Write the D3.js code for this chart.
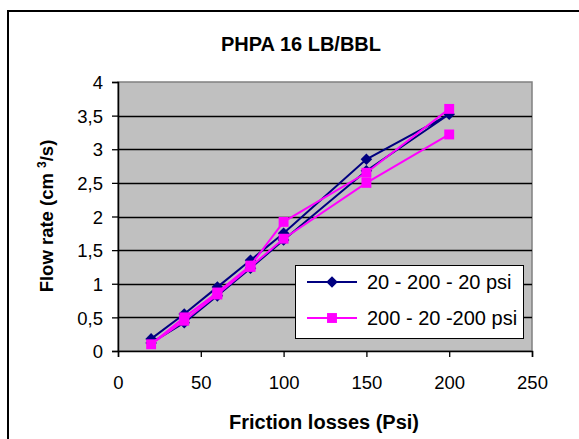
<!DOCTYPE html>
<html>
<head>
<meta charset="utf-8">
<script src="https://cdn.jsdelivr.net/npm/d3@7"></script>
<style>
  html, body { margin: 0; padding: 0; background: #fff; }
  svg { display: block; }
  text { font-family: "Liberation Sans", Arial, sans-serif; fill: #000; }
</style>
</head>
<body>
<svg id="chart" width="579" height="439"></svg>
<script>
// ---- data ----
const chartTitle = "PHPA 16 LB/BBL";
const xTitle = "Friction losses (Psi)";
const seriesNames = ["20 - 200 - 20 psi", "200 - 20 -200 psi"];
const pressureA = [20, 40, 60, 80, 100, 150, 200, 150, 100, 80, 60, 40, 20];
const flowA     = [0.18, 0.55, 0.95, 1.35, 1.75, 2.85, 3.52, 2.68, 1.65, 1.23, 0.82, 0.42, 0.12];
const pressureB = [200, 150, 100, 80, 60, 40, 20, 40, 60, 80, 100, 150, 200];
const flowB     = [3.6, 2.65, 1.92, 1.27, 0.87, 0.5, 0.1, 0.45, 0.84, 1.25, 1.67, 2.5, 3.22];
const xTicks = [0, 50, 100, 150, 200, 250];
const yTicks = [0, 0.5, 1, 1.5, 2, 2.5, 3, 3.5, 4];
const yTickLabels = ["0", "0,5", "1", "1,5", "2", "2,5", "3", "3,5", "4"];

(function () {
const svg = d3.select("#chart");
const FONT = "Liberation Sans, Arial, sans-serif";

// outer chart border
svg.append("rect").attr("x", 8).attr("y", 11).attr("width", 640).attr("height", 480)
  .attr("fill", "#fff").attr("stroke", "#000").attr("stroke-width", 2);

const pL = 118, pR = 532, pT = 82, pB = 351;
const x = d3.scaleLinear().domain([0, 250]).range([pL, pR]);
const y = d3.scaleLinear().domain([0, 4]).range([pB, pT]);

// plot area
svg.append("rect").attr("x", pL).attr("y", pT).attr("width", pR - pL).attr("height", pB - pT)
  .attr("fill", "#c0c0c0").attr("stroke", "#808080").attr("stroke-width", 1.5);

// gridlines
svg.append("g").selectAll("line").data(yTicks.filter(d => d > 0 && d < 4)).join("line")
  .attr("x1", pL).attr("x2", pR)
  .attr("y1", d => Math.round(y(d)) + 0.5).attr("y2", d => Math.round(y(d)) + 0.5)
  .attr("stroke", "#000").attr("stroke-width", 1.3);

// axes
const yAxis = d3.axisLeft(y).tickValues(yTicks).tickSize(6).tickPadding(9)
  .tickFormat((d, i) => yTickLabels[i]);
const gy = svg.append("g").attr("transform", `translate(${pL},0)`).call(yAxis);
gy.select(".domain").attr("stroke", "#000").attr("stroke-width", 1.5);
gy.selectAll(".tick line").attr("stroke", "#000").attr("stroke-width", 1.3);
gy.selectAll(".tick text").attr("font-size", 18.5).attr("font-family", FONT).attr("dy", "0.36em");

const xAxis = d3.axisBottom(x).tickValues(xTicks).tickSize(6).tickPadding(19).tickFormat(d3.format("d"));
const gx = svg.append("g").attr("transform", `translate(0,${pB})`).call(xAxis);
gx.select(".domain").attr("stroke", "#000").attr("stroke-width", 1.5);
gx.selectAll(".tick line").attr("stroke", "#000").attr("stroke-width", 1.3);
gx.selectAll(".tick text").attr("font-size", 18.5).attr("font-family", FONT);

// series
const dataA = pressureA.map((p, i) => [p, flowA[i]]);
const dataB = pressureB.map((p, i) => [p, flowB[i]]);
const line = d3.line().x(d => x(d[0])).y(d => y(d[1]));

const navy = "#000080", pink = "#ff00ff";
const diamond = d3.symbol().type(d3.symbolDiamond2).size(85);
const square = d3.symbol().type(d3.symbolSquare2).size(125);

svg.append("path").datum(dataA).attr("d", line).attr("fill", "none").attr("stroke", navy).attr("stroke-width", 2);
svg.append("g").selectAll("path").data(dataA).join("path")
  .attr("d", diamond).attr("transform", d => `translate(${x(d[0])},${y(d[1])})`).attr("fill", navy);

svg.append("path").datum(dataB).attr("d", line).attr("fill", "none").attr("stroke", pink).attr("stroke-width", 2);
svg.append("g").selectAll("path").data(dataB).join("path")
  .attr("d", square).attr("transform", d => `translate(${x(d[0])},${y(d[1])})`).attr("fill", pink);

// legend
const lg = svg.append("g");
lg.append("rect").attr("x", 295.5).attr("y", 265.5).attr("width", 228).attr("height", 73)
  .attr("fill", "#fff").attr("stroke", "#000").attr("stroke-width", 1);
const legendItems = [
  { name: seriesNames[0], color: navy, sym: diamond, cy: 282 },
  { name: seriesNames[1], color: pink, sym: square, cy: 318 }
];
legendItems.forEach(it => {
  lg.append("line").attr("x1", 307).attr("x2", 357).attr("y1", it.cy).attr("y2", it.cy)
    .attr("stroke", it.color).attr("stroke-width", 2);
  lg.append("path").attr("d", it.sym).attr("transform", `translate(332,${it.cy})`).attr("fill", it.color);
  lg.append("text").attr("x", 367).attr("y", it.cy + 7).attr("font-size", 20).text(it.name);
});

// titles
svg.append("text").attr("x", 301).attr("y", 51).attr("text-anchor", "middle")
  .attr("font-size", 20).attr("font-weight", "bold").text(chartTitle);
svg.append("text").attr("x", 324).attr("y", 429).attr("text-anchor", "middle")
  .attr("font-size", 20).attr("font-weight", "bold").text(xTitle);
const yt = svg.append("text").attr("transform", "translate(53,216) rotate(-90)").attr("text-anchor", "middle")
  .attr("font-size", 18.5).attr("font-weight", "bold");
yt.append("tspan").text("Flow rate (cm ");
yt.append("tspan").attr("font-size", 12).attr("dy", -7).text("3");
yt.append("tspan").attr("dy", 7).text("/s)");
})();
</script>
</body>
</html>
